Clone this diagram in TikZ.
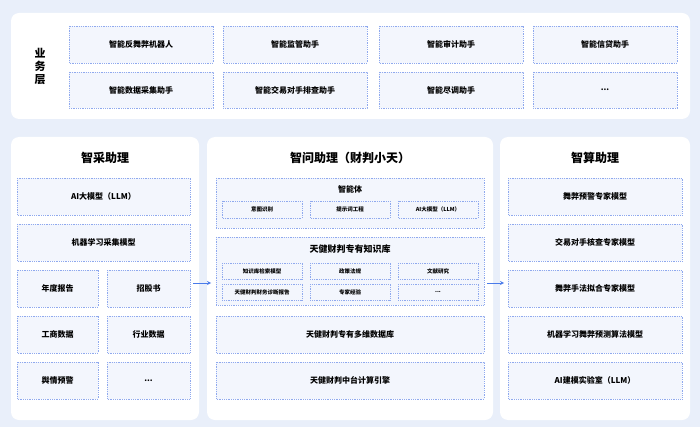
\documentclass[tikz,border=0pt]{standalone}
\usepackage{fontspec}
\setmainfont{Noto Sans CJK SC}
\usetikzlibrary{positioning}
\definecolor{bgblue}{HTML}{E9EFFA}
\definecolor{boxfill}{HTML}{F3F6FD}
\definecolor{boxline}{HTML}{8FA9EE}
\definecolor{arrowblue}{HTML}{4A7BEA}
\newcommand\moreDots{...}
\begin{document}
\begin{tikzpicture}[x=1pt,y=-1pt]

  % styles
  \tikzset{
    Panel/.style={fill=white,draw=none,rounded corners=8pt},
    Box/.style={fill=boxfill,draw=boxline,densely dotted,line width=0.8pt},
    Label/.style={font=\fontsize{8}{9}\selectfont\bfseries},
    Small/.style={font=\fontsize{5.5}{6}\selectfont\bfseries},
    Title/.style={font=\fontsize{12}{14}\selectfont\bfseries},
    Arrow/.style={->,>=stealth,draw=arrowblue,thick}
  }

  \fill[bgblue] (0,0) rectangle (700,427);

  % business layer
  \fill[Panel] (11,13) rectangle (690,119);
  \node[Title,align=center,font=\fontsize{11}{13}\selectfont\bfseries] (biz) at (40,66) {业\\务\\层};
  \foreach \x/\n/\a/\b in {69/b1/智能反舞弊机器人/智能数据采集助手,
                           223/b2/智能监管助手/智能交易对手排查助手,
                           379/b3/智能审计助手/智能尽调助手,
                           533/b4/智能信贷助手/\moreDots}{
    \draw[Box] (\x,26) rectangle +(144,37);
    \node[Label] (\n a) at (\x+72,44.5) {\a};
    \draw[Box] (\x,72) rectangle +(144,36);
    \node[Label] (\n b) at (\x+72,90) {\b};
  }

  % panels
  \fill[Panel] (11,137) rectangle (199,420);
  \fill[Panel] (207,137) rectangle (493,420);
  \fill[Panel] (500,137) rectangle (690,420);
  \node[Title] (caiT) at (105,158) {智采助理};
  \node[Title] (wenT) at (350,158) {智问助理（财判小天）};
  \node[Title] (suanT) at (595,158) {智算助理};

  % left column
  \draw[Box] (17,178) rectangle (190,215); \node[Label] (c1) at (103.5,196.5) {AI大模型（LLM）};
  \draw[Box] (17,224) rectangle (190,261); \node[Label] (c2) at (103.5,242.5) {机器学习采集模型};
  \foreach \y/\n/\a/\b in {270/c3/年度报告/招股书,316/c4/工商数据/行业数据,362/c5/舆情预警/\moreDots}{
    \draw[Box] (17,\y) rectangle +(81,37); \node[Label] (\n a) at (57.5,\y+18.5) {\a};
    \draw[Box] (107,\y) rectangle +(83,37); \node[Label] (\n b) at (148.5,\y+18.5) {\b};
  }

  % middle column
  \draw[Box] (216,178) rectangle (484,228);
  \node[Label] (agent) at (350,189) {智能体};
  \foreach \x/\n/\t in {222/a1/意图识别,310/a2/提示词工程,398/a3/AI大模型（LLM）}{
    \draw[Box] (\x,201) rectangle +(80,17); \node[Small] (\n) at (\x+40,209.5) {\t};
  }
  \draw[Box] (216,237) rectangle (484,305);
  \node[Label,font=\fontsize{9}{10}\selectfont\bfseries] (kb) at (350,249) {天健财判专有知识库};
  \foreach \x/\n/\a/\b in {222/k1/知识库检索模型/天健财判财务诊断报告,310/k2/政策法规/专家经验,398/k3/文献研究/\moreDots}{
    \draw[Box] (\x,263) rectangle +(80,16); \node[Small] (\n a) at (\x+40,271) {\a};
    \draw[Box] (\x,284) rectangle +(80,16); \node[Small] (\n b) at (\x+40,292) {\b};
  }
  \draw[Box] (216,316) rectangle (484,353); \node[Label] (db) at (350,334.5) {天健财判专有多维数据库};
  \draw[Box] (216,362) rectangle (484,399); \node[Label] (eng) at (350,380.5) {天健财判中台计算引擎};

  % right column
  \foreach \y/\n/\t in {178/s1/舞弊预警专家模型,224/s2/交易对手核查专家模型,270/s3/舞弊手法拟合专家模型,
                        316/s4/机器学习舞弊预测算法模型,362/s5/AI建模实验室（LLM）}{
    \draw[Box] (508,\y) rectangle +(174,37); \node[Label] (\n) at (595,\y+18.5) {\t};
  }

  % arrows
  \coordinate (L1) at (193,283); \coordinate (L2) at (211,283);
  \coordinate (R1) at (487,283); \coordinate (R2) at (504,283);
  \draw[Arrow] (L1) -- (L2);
  \draw[Arrow] (R1) -- (R2);

\end{tikzpicture}
\end{document}
